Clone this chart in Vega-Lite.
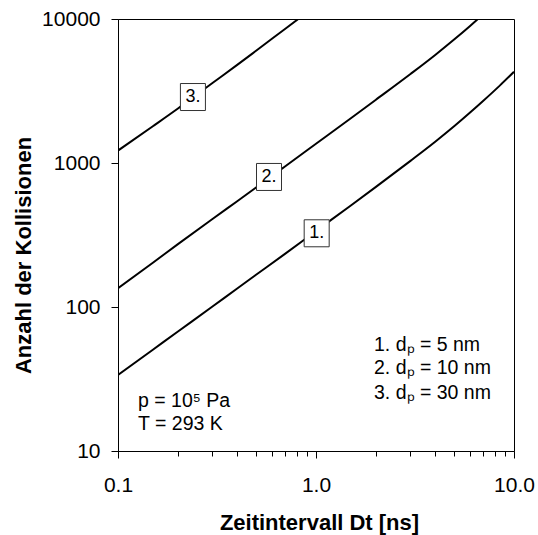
{
  "$schema": "https://vega.github.io/schema/vega-lite/v6.json",
  "width": 396,
  "height": 432,
  "autosize": "none",
  "padding": {"left": 118, "top": 19, "right": 24, "bottom": 84},
  "background": "white",
  "config": {
    "view": {"stroke": "black", "strokeWidth": 1},
    "font": "Liberation Sans"
  },
  "datasets": {
    "curves": [
      {"t": 0.1, "n": 33.7, "curve": "1"},
      {"t": 0.15, "n": 50.5, "curve": "1"},
      {"t": 0.2, "n": 67.3, "curve": "1"},
      {"t": 0.3, "n": 100.8, "curve": "1"},
      {"t": 0.4, "n": 134.5, "curve": "1"},
      {"t": 0.5, "n": 168, "curve": "1"},
      {"t": 0.7, "n": 235, "curve": "1"},
      {"t": 1.0, "n": 337, "curve": "1"},
      {"t": 1.5, "n": 507, "curve": "1"},
      {"t": 2.0, "n": 680, "curve": "1"},
      {"t": 3.0, "n": 1035, "curve": "1"},
      {"t": 4.0, "n": 1405, "curve": "1"},
      {"t": 5.0, "n": 1805, "curve": "1"},
      {"t": 6.0, "n": 2240, "curve": "1"},
      {"t": 7.0, "n": 2705, "curve": "1"},
      {"t": 8.5, "n": 3460, "curve": "1"},
      {"t": 10.0, "n": 4300, "curve": "1"},
      {"t": 0.1, "n": 135, "curve": "2"},
      {"t": 0.15, "n": 203, "curve": "2"},
      {"t": 0.2, "n": 272, "curve": "2"},
      {"t": 0.3, "n": 408, "curve": "2"},
      {"t": 0.4, "n": 543, "curve": "2"},
      {"t": 0.5, "n": 678, "curve": "2"},
      {"t": 0.7, "n": 950, "curve": "2"},
      {"t": 1.0, "n": 1360, "curve": "2"},
      {"t": 1.5, "n": 2045, "curve": "2"},
      {"t": 2.0, "n": 2740, "curve": "2"},
      {"t": 3.0, "n": 4150, "curve": "2"},
      {"t": 4.0, "n": 5630, "curve": "2"},
      {"t": 5.0, "n": 7230, "curve": "2"},
      {"t": 6.0, "n": 8950, "curve": "2"},
      {"t": 7.0, "n": 10800, "curve": "2"},
      {"t": 0.1, "n": 1220, "curve": "3"},
      {"t": 0.15, "n": 1800, "curve": "3"},
      {"t": 0.2, "n": 2380, "curve": "3"},
      {"t": 0.3, "n": 3590, "curve": "3"},
      {"t": 0.4, "n": 4800, "curve": "3"},
      {"t": 0.5, "n": 6040, "curve": "3"},
      {"t": 0.7, "n": 8560, "curve": "3"},
      {"t": 0.9, "n": 11100, "curve": "3"}
    ],
    "boxes": [
      {"t": 1.008, "n": 325, "lab": "1."},
      {"t": 0.579, "n": 800, "lab": "2."},
      {"t": 0.239, "n": 2872, "lab": "3."}
    ],
    "notes": [
      {"t": 0.1262, "n": 22.2, "txt": "p = 10⁵ Pa"},
      {"t": 0.1262, "n": 15.4, "txt": "T = 293 K"},
      {"t": 1.963, "n": 54.9, "txt": "1. dₚ = 5 nm"},
      {"t": 1.963, "n": 37.7, "txt": "2. dₚ = 10 nm"},
      {"t": 1.963, "n": 25.3, "txt": "3. dₚ = 30 nm"}
    ]
  },
  "layer": [
    {
      "data": {"name": "curves"},
      "mark": {"type": "line", "color": "black", "strokeWidth": 2, "clip": true, "interpolate": "monotone"},
      "encoding": {
        "x": {
          "field": "t", "type": "quantitative",
          "scale": {"type": "log", "domain": [0.1, 10], "nice": false},
          "axis": {
            "values": [0.1, 0.2, 0.3, 0.4, 0.5, 0.6, 0.7, 0.8, 0.9, 1, 2, 3, 4, 5, 6, 7, 8, 9, 10],
            "labelExpr": "(datum.value == 0.1 || datum.value == 1 || datum.value == 10) ? format(datum.value, '.1f') : ''",
            "labelOverlap": false,
            "labelFlush": false,
            "labelFont": "Liberation Sans",
            "labelFontSize": 21,
            "labelColor": "black",
            "labelBaseline": "alphabetic",
            "labelPadding": 33,
            "tickSize": {"condition": {"test": "datum.value == 0.1 || datum.value == 1 || datum.value == 10", "value": 7}, "value": 5},
            "tickColor": "black",
            "domainColor": "black",
            "grid": false,
            "title": "Zeitintervall Dt [ns]",
            "titleFont": "Liberation Sans",
            "titleFontSize": 22,
            "titleFontWeight": "bold",
            "titleColor": "black",
            "titleX": 201,
            "titleY": 78,
            "titleBaseline": "alphabetic",
            "titleAnchor": "middle"
          }
        },
        "y": {
          "field": "n", "type": "quantitative",
          "scale": {"type": "log", "domain": [10, 10000], "nice": false},
          "axis": {
            "values": [10, 100, 1000, 10000],
            "format": "d",
            "labelFont": "Liberation Sans",
            "labelFontSize": 21,
            "labelColor": "black",
            "labelPadding": 11,
            "tickSize": 7,
            "tickColor": "black",
            "domainColor": "black",
            "grid": false,
            "title": "Anzahl der Kollisionen",
            "titleFont": "Liberation Sans",
            "titleFontSize": 22,
            "titleFontWeight": "bold",
            "titleColor": "black",
            "titleAngle": -90,
            "titleX": -88,
            "titleY": 236,
            "titleBaseline": "alphabetic",
            "titleAlign": "center",
            "titleAnchor": "middle"
          }
        },
        "detail": {"field": "curve"}
      }
    },
    {
      "data": {"name": "boxes"},
      "mark": {"type": "point", "shape": "M-0.926,-1H0.926V1H-0.926Z", "size": 729, "filled": true, "fill": "white", "stroke": "#333333", "strokeWidth": 1, "opacity": 1},
      "encoding": {
        "x": {"field": "t", "type": "quantitative"},
        "y": {"field": "n", "type": "quantitative"}
      }
    },
    {
      "data": {"name": "boxes"},
      "mark": {"type": "text", "font": "Liberation Sans", "fontSize": 18, "color": "black", "align": "center", "baseline": "middle"},
      "encoding": {
        "x": {"field": "t", "type": "quantitative"},
        "y": {"field": "n", "type": "quantitative"},
        "text": {"field": "lab"}
      }
    },
    {
      "data": {"name": "notes"},
      "mark": {"type": "text", "font": "Liberation Sans", "fontSize": 19.5, "color": "black", "align": "left", "baseline": "middle"},
      "encoding": {
        "x": {"field": "t", "type": "quantitative"},
        "y": {"field": "n", "type": "quantitative"},
        "text": {"field": "txt"}
      }
    }
  ]
}
